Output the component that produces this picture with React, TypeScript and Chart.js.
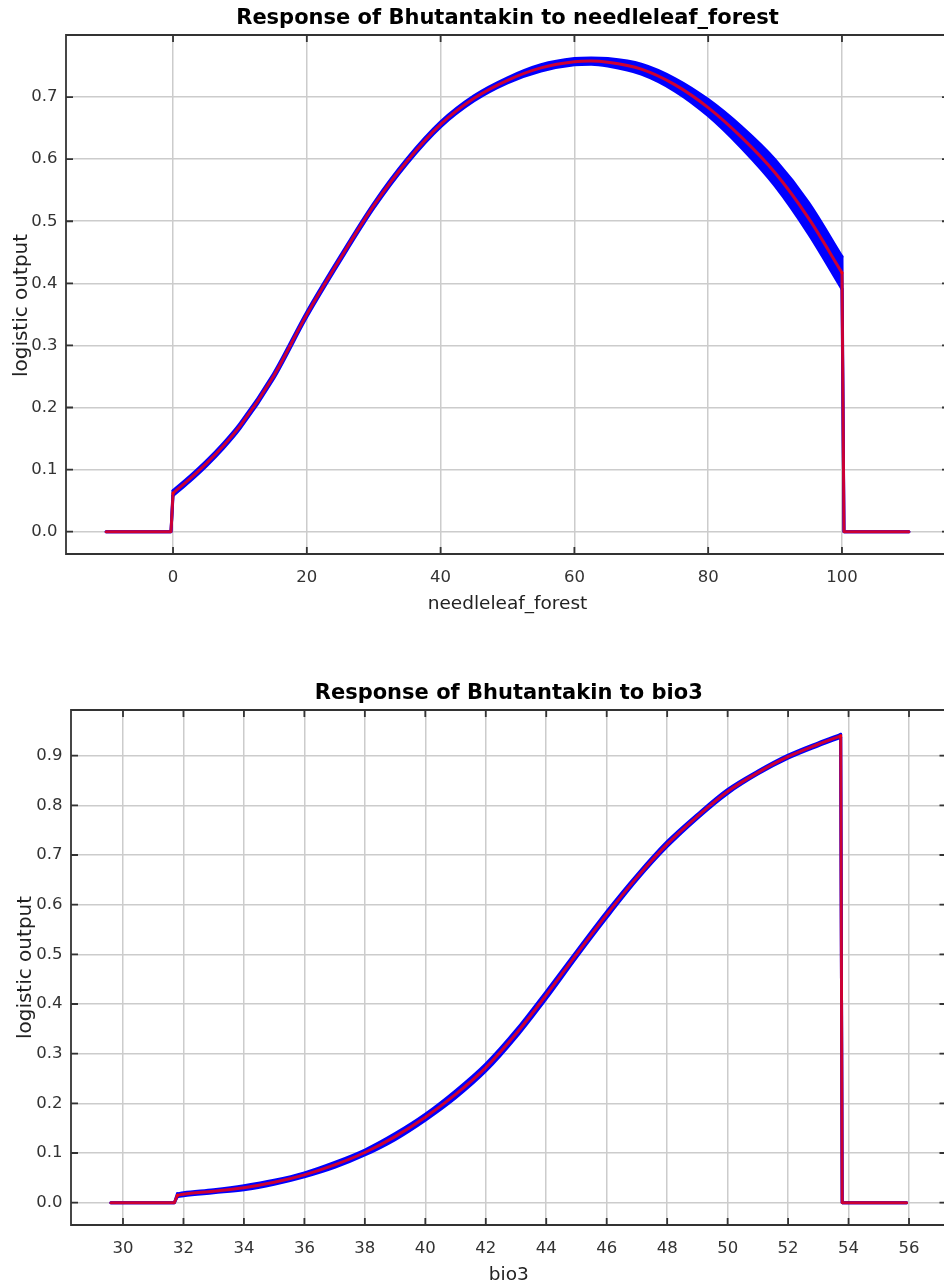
import React, { useEffect, useRef } from 'react';
import { Chart, registerables } from 'chart.js';

Chart.register(...registerables);

const FONT = "'DejaVu Sans', sans-serif";

// ---------- Chart 1: needleleaf_forest ----------
// flat parts outside the data range (value 0)
const needleLeftX = [-10, -0.3];
const needleRightX = [100.3, 110];
// response curve between 0 and 100
const needleX = [0, 2.5, 5, 7.5, 10, 15, 20, 25, 30, 35, 40, 45, 50, 55, 60, 62.5, 65, 70, 75, 80, 85, 90, 95, 100];
const needleMean = [0.062, 0.085, 0.11, 0.138, 0.17, 0.25, 0.35, 0.44, 0.525, 0.597, 0.656, 0.698, 0.727, 0.747, 0.757, 0.758, 0.756, 0.745, 0.72, 0.683, 0.635, 0.578, 0.505, 0.417];
const needleUpper = [0.066, 0.089, 0.114, 0.142, 0.174, 0.254, 0.354, 0.444, 0.529, 0.601, 0.66, 0.702, 0.731, 0.752, 0.762, 0.763, 0.762, 0.753, 0.73, 0.696, 0.652, 0.599, 0.53, 0.443];
const needleLower = [0.058, 0.081, 0.106, 0.134, 0.166, 0.246, 0.346, 0.436, 0.521, 0.593, 0.652, 0.694, 0.723, 0.742, 0.752, 0.753, 0.75, 0.737, 0.71, 0.67, 0.618, 0.557, 0.48, 0.391];
const needleXTicks = [0, 20, 40, 60, 80, 100];
const needleYTicks = [0, 0.1, 0.2, 0.3, 0.4, 0.5, 0.6, 0.7];

// ---------- Chart 2: bio3 ----------
const bio3LeftX = [29.6, 31.7];
const bio3RightX = [53.79, 55.92];
const bio3X = [31.8, 32, 33, 34, 35, 36, 37, 38, 39, 40, 41, 42, 43, 44, 45, 46, 47, 48, 49, 50, 51, 52, 53, 53.74];
const bio3Mean = [0.015, 0.017, 0.023, 0.03, 0.041, 0.056, 0.076, 0.101, 0.133, 0.172, 0.218, 0.272, 0.34, 0.418, 0.5, 0.58, 0.655, 0.722, 0.778, 0.828, 0.866, 0.898, 0.923, 0.94];
const bio3Upper = [0.018, 0.02, 0.026, 0.034, 0.045, 0.06, 0.081, 0.106, 0.139, 0.178, 0.225, 0.279, 0.347, 0.425, 0.506, 0.586, 0.66, 0.727, 0.782, 0.832, 0.869, 0.901, 0.926, 0.943];
const bio3Lower = [0.012, 0.014, 0.02, 0.026, 0.037, 0.052, 0.071, 0.096, 0.127, 0.166, 0.211, 0.265, 0.333, 0.411, 0.494, 0.574, 0.65, 0.717, 0.774, 0.824, 0.863, 0.895, 0.92, 0.937];
const bio3XTicks = [30, 32, 34, 36, 38, 40, 42, 44, 46, 48, 50, 52, 54, 56];
const bio3YTicks = [0, 0.1, 0.2, 0.3, 0.4, 0.5, 0.6, 0.7, 0.8, 0.9];

const framePlugin = {
  id: 'frame',
  afterDraw(chart: any) {
    const { ctx, chartArea } = chart;
    const { left, right, top, bottom } = chartArea;
    const xs = chart.scales.x;
    const ys = chart.scales.y;
    ctx.save();
    ctx.strokeStyle = '#333333';
    ctx.lineWidth = 1.8;
    ctx.beginPath();
    ctx.moveTo(right, top);
    ctx.lineTo(left, top);
    ctx.lineTo(left, bottom);
    ctx.lineTo(right, bottom);
    ctx.lineTo(right, top);
    const TL = 7;
    xs.ticks.forEach((t: any) => {
      const px = xs.getPixelForValue(t.value);
      ctx.moveTo(px, top);
      ctx.lineTo(px, top + TL);
      ctx.moveTo(px, bottom);
      ctx.lineTo(px, bottom - TL);
    });
    ys.ticks.forEach((t: any) => {
      const py = ys.getPixelForValue(t.value);
      ctx.moveTo(left, py);
      ctx.lineTo(left + TL, py);
      ctx.moveTo(right, py);
      ctx.lineTo(right - TL, py);
    });
    ctx.stroke();

    // y axis title
    const opts = chart.options.plugins.frame || {};
    const cy = (top + bottom) / 2 + (opts.yTitleShift || 0);
    ctx.save();
    ctx.translate(opts.yTitleX || 28, cy);
    ctx.rotate(-Math.PI / 2);
    ctx.font = `20px ${FONT}`;
    ctx.fillStyle = '#222222';
    ctx.textAlign = 'center';
    ctx.textBaseline = 'alphabetic';
    ctx.fillText('logistic output', 0, 0);
    ctx.restore();
    ctx.restore();
  },
};

function pts(xs: number[], ys: number[]) {
  return xs.map((x, i) => ({ x, y: ys[i] }));
}
function zeros(xs: number[]) {
  return xs.map(() => 0);
}

interface Spec {
  title: string;
  xTitle: string;
  leftX: number[];
  rightX: number[];
  xs: number[];
  mean: number[];
  upper: number[];
  lower: number[];
  xTicks: number[];
  yTicks: number[];
  xMin: number;
  xMax: number;
  yMin: number;
  yMax: number;
  yWidth: number;
  xHeight: number;
  padTop: number;
  padRight: number;
  xTitlePad: number;
  yTitleX: number;
  yTitleShift: number;
  blueWidth: number;
}

function makeConfig(s: Spec): any {
  const base = {
    pointRadius: 0,
    pointHoverRadius: 0,
    borderJoinStyle: 'round',
    borderCapStyle: 'round',
    fill: false,
  };
  const RED = 'rgba(255,0,0,0.8)';
  const BLUE = '#0000ff';
  const n = s.xs.length;
  const leftPts = (arr: number[]) => [...pts(s.leftX, zeros(s.leftX)), { x: s.xs[0], y: arr[0] }];
  const rightPts = (arr: number[]) => [{ x: s.xs[n - 1], y: arr[n - 1] }, ...pts(s.rightX, zeros(s.rightX))];
  const seg = (data: any[], color: string, w: number) => ({ ...base, data, borderColor: color, borderWidth: w, tension: 0 });
  const curve = (data: any[], color: string, w: number) => ({ ...base, data, borderColor: color, borderWidth: w, cubicInterpolationMode: 'monotone' });
  const datasets = [
    seg(leftPts(s.mean), RED, 3), // 0
    curve(pts(s.xs, s.mean), RED, 3), // 1
    seg(rightPts(s.mean), RED, 3), // 2
    seg(leftPts(s.upper), BLUE, s.blueWidth), // 3
    curve(pts(s.xs, s.upper), BLUE, s.blueWidth), // 4
    seg(rightPts(s.upper), BLUE, s.blueWidth), // 5
    seg(leftPts(s.lower), BLUE, s.blueWidth), // 6
    { ...curve(pts(s.xs, s.lower), BLUE, s.blueWidth), backgroundColor: BLUE, fill: 4 }, // 7
    seg(rightPts(s.lower), BLUE, s.blueWidth), // 8
  ];
  return {
    type: 'line',
    data: { datasets },
    options: {
      animation: false,
      responsive: false,
      devicePixelRatio: 1,
      events: [],
      layout: { padding: { top: s.padTop, right: s.padRight, left: 0, bottom: 0 } },
      plugins: {
        legend: { display: false },
        tooltip: { enabled: false },
        frame: { yTitleX: s.yTitleX, yTitleShift: s.yTitleShift },
        title: {
          display: true,
          text: s.title,
          fullSize: false,
          color: '#000000',
          font: { family: FONT, size: 21, weight: 'bold', lineHeight: 1 },
          padding: { top: 8.5, bottom: 5.5 },
        },
      },
      scales: {
        x: {
          type: 'linear',
          min: s.xMin,
          max: s.xMax,
          afterBuildTicks: (sc: any) => {
            sc.ticks = s.xTicks.map((v) => ({ value: v }));
          },
          afterFit: (sc: any) => {
            sc.height = s.xHeight;
          },
          ticks: {
            color: '#333333',
            font: { family: FONT, size: 16.5 },
            padding: 13.5,
            maxRotation: 0,
            autoSkip: false,
            callback: (v: any) => String(v),
          },
          grid: { color: '#cccccc', lineWidth: 1.5, drawTicks: false },
          border: { display: false },
          title: {
            display: true,
            text: s.xTitle,
            color: '#222222',
            font: { family: FONT, size: 18.5 },
            padding: { top: 0, bottom: s.xTitlePad },
          },
        },
        y: {
          type: 'linear',
          min: s.yMin,
          max: s.yMax,
          afterBuildTicks: (sc: any) => {
            sc.ticks = s.yTicks.map((v) => ({ value: v }));
          },
          afterFit: (sc: any) => {
            sc.width = s.yWidth;
          },
          ticks: {
            color: '#333333',
            font: { family: FONT, size: 16.5 },
            padding: 8.5,
            autoSkip: false,
            callback: (v: any) => Number(v).toFixed(1),
          },
          grid: { color: '#cccccc', lineWidth: 1.5, drawTicks: false },
          border: { display: false },
          title: { display: false },
        },
      },
    },
    plugins: [framePlugin],
  };
}

const spec1: Spec = {
  title: 'Response of Bhutantakin to needleleaf_forest',
  xTitle: 'needleleaf_forest',
  leftX: needleLeftX,
  rightX: needleRightX,
  xs: needleX,
  mean: needleMean,
  upper: needleUpper,
  lower: needleLower,
  xTicks: needleXTicks,
  yTicks: needleYTicks,
  xMin: -16,
  xMax: 116,
  yMin: -0.036,
  yMax: 0.8,
  yWidth: 66,
  xHeight: 66,
  padTop: 0,
  padRight: 3,
  xTitlePad: 5,
  yTitleX: 27,
  yTitleShift: 11,
  blueWidth: 3,
};

const spec2: Spec = {
  title: 'Response of Bhutantakin to bio3',
  xTitle: 'bio3',
  leftX: bio3LeftX,
  rightX: bio3RightX,
  xs: bio3X,
  mean: bio3Mean,
  upper: bio3Upper,
  lower: bio3Lower,
  xTicks: bio3XTicks,
  yTicks: bio3YTicks,
  xMin: 28.28,
  xMax: 57.24,
  yMin: -0.045,
  yMax: 0.992,
  yWidth: 71,
  xHeight: 61,
  padTop: 35,
  padRight: 5.5,
  xTitlePad: 0,
  yTitleX: 30.5,
  yTitleShift: 0,
  blueWidth: 3,
};

export default function App() {
  const ref1 = useRef<HTMLCanvasElement>(null);
  const ref2 = useRef<HTMLCanvasElement>(null);
  useEffect(() => {
    const c1 = new Chart(ref1.current as HTMLCanvasElement, makeConfig(spec1));
    const c2 = new Chart(ref2.current as HTMLCanvasElement, makeConfig(spec2));
    return () => {
      c1.destroy();
      c2.destroy();
    };
  }, []);
  return (
    <div style={{ position: 'fixed', left: 0, top: 0, width: 944, height: 1286, overflow: 'hidden', background: '#ffffff' }}>
      <canvas ref={ref1} width={952} height={620} style={{ position: 'absolute', left: 0, top: 0, width: 952, height: 620 }} />
      <canvas ref={ref2} width={952} height={646} style={{ position: 'absolute', left: 0, top: 640, width: 952, height: 646 }} />
    </div>
  );
}
